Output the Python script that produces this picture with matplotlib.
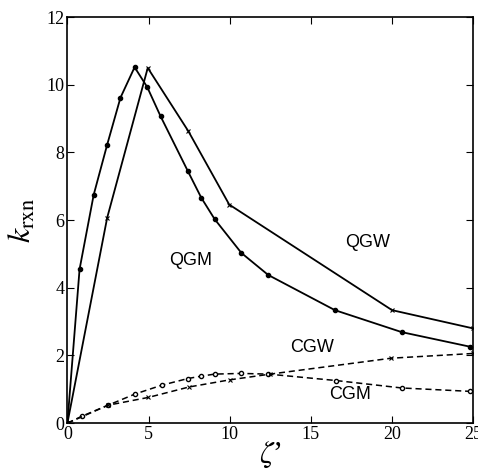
import matplotlib
matplotlib.use("Agg")
import matplotlib.pyplot as plt

plt.rcParams["mathtext.fontset"] = "stix"

# --- data ---
qgm_x = [0, 0.75, 1.62, 2.45, 3.27, 4.14, 4.92, 5.74, 7.43, 8.25, 9.07, 10.72, 12.37, 16.48, 20.6, 24.8]
qgm_y = [0, 4.55, 6.75, 8.23, 9.62, 10.52, 9.93, 9.07, 7.44, 6.66, 6.03, 5.03, 4.38, 3.34, 2.69, 2.26]

qgw_x = [0, 2.45, 4.95, 7.45, 9.97, 20.0, 25.0]
qgw_y = [0, 6.07, 10.5, 8.63, 6.46, 3.34, 2.8]

cgm_x = [0, 0.87, 2.5, 4.16, 5.8, 7.43, 8.25, 9.07, 10.7, 12.38, 16.55, 20.6, 24.8]
cgm_y = [0, 0.2, 0.53, 0.86, 1.12, 1.32, 1.39, 1.45, 1.47, 1.45, 1.26, 1.04, 0.94]

cgw_x = [0, 2.5, 4.98, 7.5, 10.0, 12.5, 19.95, 25.0]
cgw_y = [0, 0.53, 0.76, 1.07, 1.28, 1.45, 1.92, 2.06]

x_ticks = [0, 5, 10, 15, 20, 25]
y_ticks = [0, 2, 4, 6, 8, 10, 12]

serif = "Liberation Serif"
sans = "Liberation Sans"

fig = plt.figure(figsize=(4.78, 4.76), dpi=100)
ax = fig.add_axes([0.141, 0.111, 0.849, 0.853])

ax.plot(qgm_x, qgm_y, "k-", lw=1.3, marker="o", ms=3)
ax.plot(qgw_x, qgw_y, "k-", lw=1.3, marker="x", ms=3, mew=0.8)
ax.plot(cgm_x, cgm_y, "k--", lw=1.1, marker="o", ms=3, mfc="white", dashes=(4, 2.5))
ax.plot(cgw_x, cgw_y, "k--", lw=1.1, marker="x", ms=3, mew=0.8, dashes=(4, 2.5))

ax.text(7.6, 4.8, "QGM", fontsize=13, family=sans, ha="center", va="center")
ax.text(18.5, 5.35, "QGW", fontsize=13, family=sans, ha="center", va="center")
ax.text(15.1, 2.24, "CGW", fontsize=13, family=sans, ha="center", va="center")
ax.text(17.4, 0.85, "CGM", fontsize=13, family=sans, ha="center", va="center")

ax.set_xlim(0, 25)
ax.set_ylim(0, 12)
ax.set_xticks(x_ticks)
ax.set_yticks(y_ticks)
ax.tick_params(direction="in", length=5, top=True, right=True, labelsize=13, pad=2)
for lab in ax.get_xticklabels() + ax.get_yticklabels():
    lab.set_family(serif)
for s in ax.spines.values():
    s.set_linewidth(1.2)

ax.set_xlabel("$\\zeta$\u2019", fontsize=22, family=serif, labelpad=-2)
ax.set_ylabel(r"$k_{\rm rxn}$", fontsize=23, family=serif, labelpad=6)

fig.savefig("out.png", dpi=100)
